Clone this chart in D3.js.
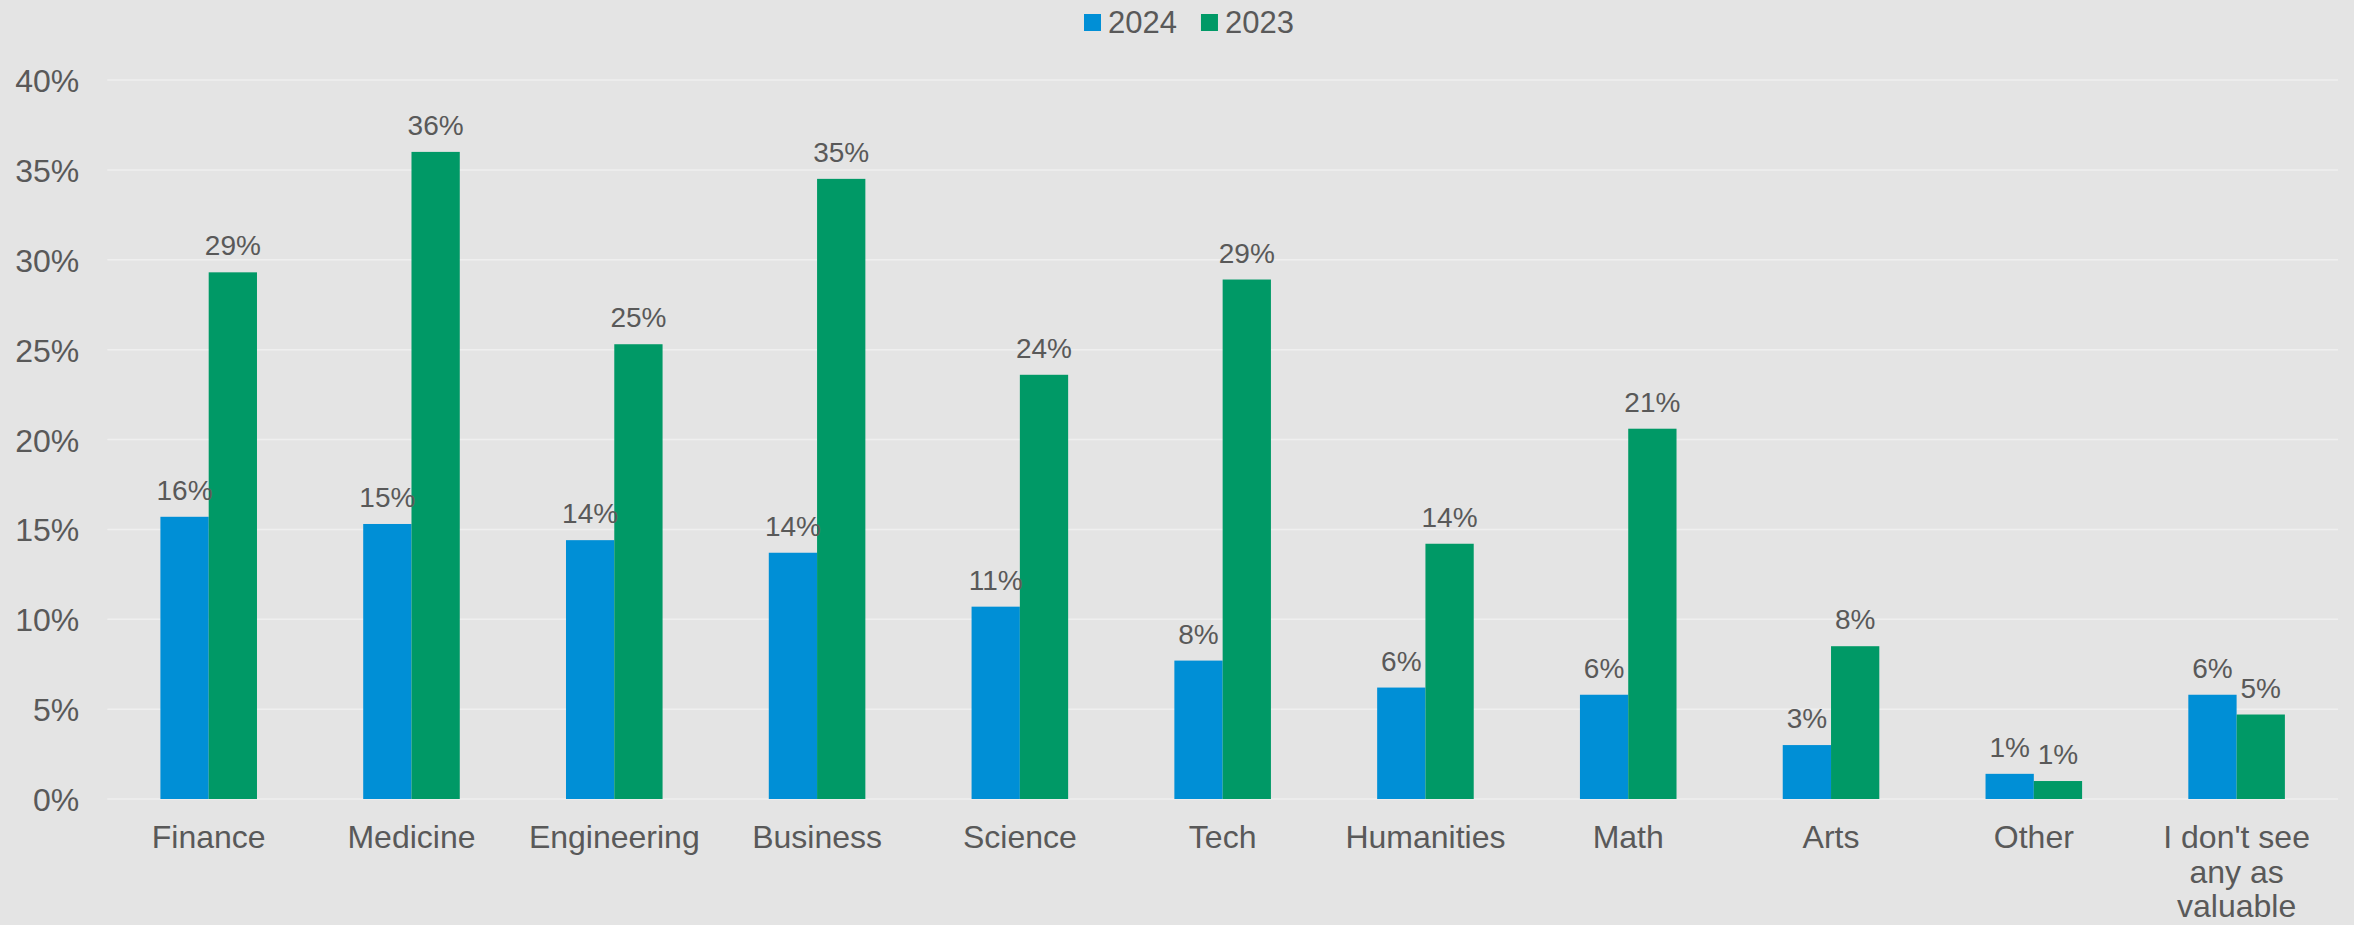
<!DOCTYPE html>
<html>
<head>
<meta charset="utf-8">
<script src="https://cdn.jsdelivr.net/npm/d3@7/dist/d3.min.js"></script>
<style>
  html, body { margin: 0; padding: 0; background: #e4e4e4; }
  svg { display: block; font-family: "Liberation Sans", Arial, sans-serif; }
</style>
</head>
<body>
<svg id="chart" width="2354" height="925"></svg>
<script>
const categories = ["Finance", "Medicine", "Engineering", "Business", "Science", "Tech",
  "Humanities", "Math", "Arts", "Other", "I don't see any as valuable"];
const seriesNames = ["2024", "2023"];
const values2024 = [0.157, 0.153, 0.144, 0.137, 0.107, 0.077, 0.062, 0.058, 0.030, 0.014, 0.058];
const values2023 = [0.293, 0.360, 0.253, 0.345, 0.236, 0.289, 0.142, 0.206, 0.085, 0.010, 0.047];
const labels2024 = ["16%", "15%", "14%", "14%", "11%", "8%", "6%", "6%", "3%", "1%", "6%"];
const labels2023 = ["29%", "36%", "25%", "35%", "24%", "29%", "14%", "21%", "8%", "1%", "5%"];
const yTicks = [0, 0.05, 0.10, 0.15, 0.20, 0.25, 0.30, 0.35, 0.40];
const colors = ["#008fd6", "#009966"];

(function () {
const svg = d3.select("#chart");
const W = 2354, H = 925;
const mLeft = 107.3, mRight = 2338, mTop = 80, mBottom = 799;
const textColor = "#595959";

svg.append("rect").attr("width", W).attr("height", H).attr("fill", "#e4e4e4");

const x0 = d3.scaleBand().domain(categories).range([mLeft, mRight]).paddingInner(0).paddingOuter(0);
const x1 = d3.scaleBand().domain(seriesNames).range([0, x0.bandwidth()]).paddingInner(0).paddingOuter(1.1);
const y = d3.scaleLinear().domain([0, 0.4]).range([mBottom, mTop]);

// gridlines
svg.append("g").selectAll("line").data(yTicks).join("line")
  .attr("x1", mLeft).attr("x2", mRight)
  .attr("y1", d => y(d)).attr("y2", d => y(d))
  .attr("stroke", "#efefef").attr("stroke-width", 1.5);

// y axis
const yAxis = d3.axisLeft(y).tickValues(yTicks).tickFormat(d3.format(".0%")).tickSize(0).tickPadding(28);
const ya = svg.append("g").attr("transform", `translate(${mLeft},0)`).call(yAxis);
ya.select(".domain").remove();
ya.selectAll("text").attr("fill", textColor).attr("font-size", 32)
  .attr("font-family", "Liberation Sans, Arial, sans-serif").attr("dy", "0.36em");

// bars
const series = [
  { name: seriesNames[0], vals: values2024, labels: labels2024, color: colors[0] },
  { name: seriesNames[1], vals: values2023, labels: labels2023, color: colors[1] }
];
const barsG = svg.append("g");
series.forEach(s => {
  barsG.selectAll(null).data(categories).join("rect")
    .attr("x", (c) => x0(c) + x1(s.name))
    .attr("width", x1.bandwidth())
    .attr("y", (c, i) => y(s.vals[i]))
    .attr("height", (c, i) => y(0) - y(s.vals[i]))
    .attr("fill", s.color);
});
// value labels
const labG = svg.append("g");
series.forEach(s => {
  labG.selectAll(null).data(categories).join("text")
    .attr("x", (c) => x0(c) + x1(s.name) + x1.bandwidth() / 2)
    .attr("y", (c, i) => y(s.vals[i]) - 17)
    .attr("text-anchor", "middle")
    .attr("font-size", 28)
    .attr("fill", textColor)
    .text((c, i) => s.labels[i]);
});

// x axis labels with wrapping
const xa = svg.append("g");
categories.forEach(c => {
  const cx = x0(c) + x0.bandwidth() / 2;
  const t = xa.append("text")
    .attr("x", cx)
    .attr("y", 848)
    .attr("text-anchor", "middle")
    .attr("font-size", 32)
    .attr("fill", textColor);
  const words = c.split(" ");
  let line = [];
  let tspan = t.append("tspan").attr("x", cx).attr("dy", 0);
  words.forEach(w => {
    line.push(w);
    tspan.text(line.join(" "));
    if (tspan.node().getComputedTextLength() > 185 && line.length > 1) {
      line.pop();
      tspan.text(line.join(" "));
      line = [w];
      tspan = t.append("tspan").attr("x", cx).attr("dy", 34.5).text(w);
    }
  });
});

// legend
const lg = svg.append("g");
let lx = 1084;
series.forEach(s => {
  lg.append("rect").attr("x", lx).attr("y", 14).attr("width", 17).attr("height", 17).attr("fill", s.color);
  const t = lg.append("text").attr("x", lx + 24).attr("y", 33).attr("font-size", 31)
    .attr("fill", textColor).text(s.name);
  lx += 24 + t.node().getComputedTextLength() + 24;
});
})();
</script>
</body>
</html>
